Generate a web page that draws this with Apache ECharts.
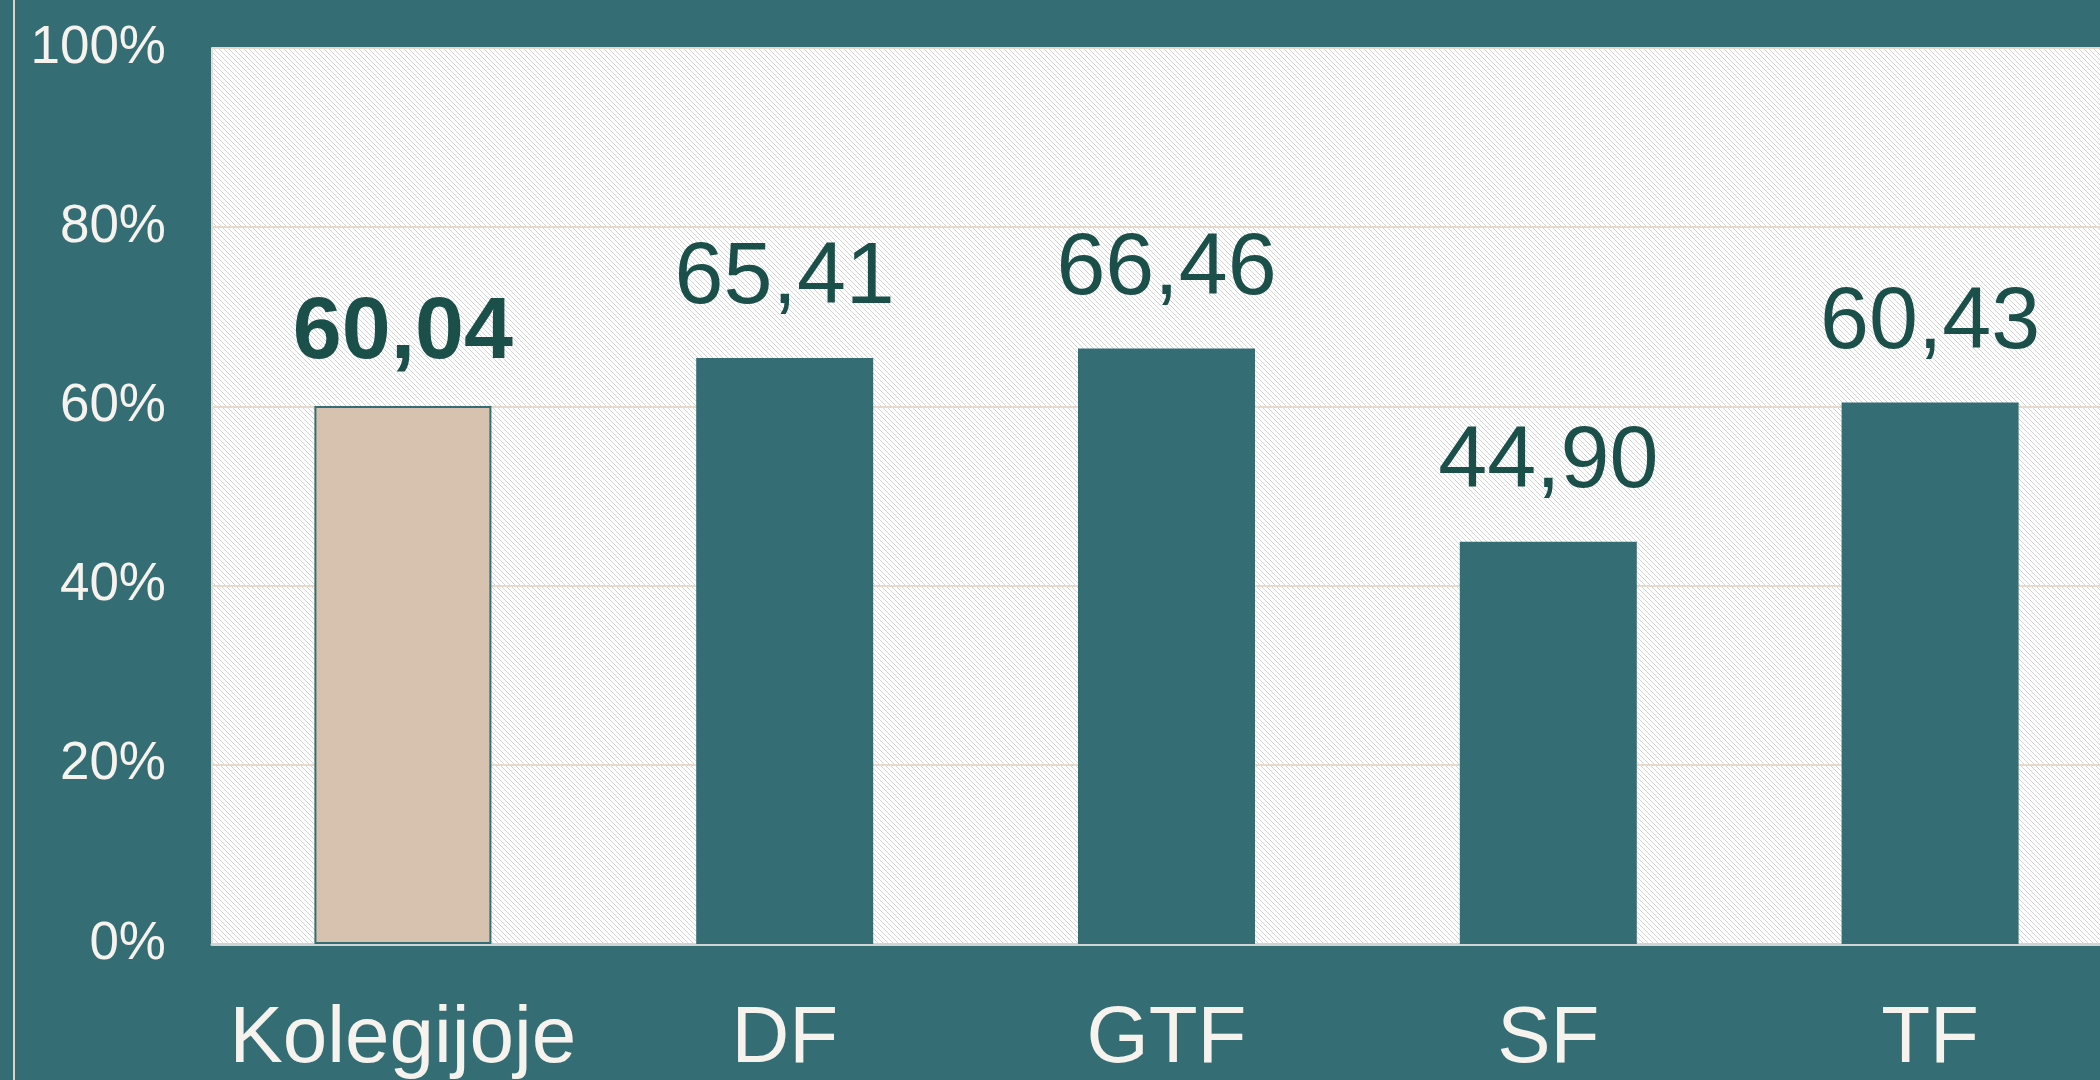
<!DOCTYPE html>
<html lang="lt">
<head>
    <meta charset="UTF-8">
    <script src="https://cdn.jsdelivr.net/npm/echarts@6/dist/echarts.min.js"></script>
    <title>Kolegija</title>
</head>
<body>
<style>
    html, body, #main {
        width: 100%;
        height: 100%;
        margin: 0;
        background: #356d75;
    }
</style>
<div id='main'></div>
<script>
    // duomenys
    var categories = ['Kolegijoje', 'DF', 'GTF', 'SF', 'TF'];
    var values = [60.04, 65.41, 66.46, 44.90, 60.43];
    var yTicks = [0, 20, 40, 60, 80, 100];

    var teal = '#356d75';
    var beige = '#d6c2ae';
    var labelColor = '#1b4f4a';

    // dryzuotas fonas grafiko plotui
    var tile = document.createElement('canvas');
    tile.width = 5;
    tile.height = 5;
    var ctx = tile.getContext('2d');
    ctx.fillStyle = '#ffffff';
    ctx.fillRect(0, 0, 5, 5);
    ctx.strokeStyle = '#d4d4d4';
    ctx.lineWidth = 1;
    ctx.beginPath();
    ctx.moveTo(-1, -1);
    ctx.lineTo(6, 6);
    ctx.moveTo(-1, 4);
    ctx.lineTo(1, 6);
    ctx.moveTo(4, -1);
    ctx.lineTo(6, 1);
    ctx.stroke();

    var barData = [];
    for (var i = 0; i < values.length; i++) {
        var item = {value: values[i]};
        if (i === 0) {
            item.itemStyle = {color: beige, borderColor: teal, borderWidth: 2};
            item.label = {fontWeight: 'bold', distance: 28};
        }
        barData.push(item);
    }

    var myChart = echarts.init(document.getElementById('main'));

    var option = {
        backgroundColor: teal,
        animation: false,
        grid: {
            show: true,
            left: 212,
            top: 48,
            width: 1909,
            height: 896,
            outerBoundsMode: 'none',
            borderWidth: 0,
            backgroundColor: {image: tile, repeat: 'repeat'}
        },
        graphic: [
            {
                type: 'line',
                shape: {x1: 14, y1: 0, x2: 14, y2: 1080},
                style: {stroke: '#ddd3c9', lineWidth: 2}
            }
        ],
        xAxis: {
            type: 'category',
            data: categories,
            axisTick: {show: false},
            axisLine: {
                lineStyle: {color: '#cfd4d4', width: 3}
            },
            axisLabel: {
                interval: 0,
                color: '#f6f2ed',
                fontSize: 80,
                fontFamily: 'Liberation Sans',
                margin: 56
            }
        },
        yAxis: {
            type: 'value',
            min: yTicks[0],
            max: yTicks[yTicks.length - 1],
            interval: 20,
            axisLine: {
                show: true,
                lineStyle: {color: '#e9ddd3', width: 2}
            },
            axisTick: {show: false},
            splitLine: {
                lineStyle: {color: '#e8d9cd', width: 2}
            },
            axisLabel: {
                color: '#f6f2ed',
                fontSize: 53,
                fontFamily: 'Liberation Sans',
                margin: 46,
                formatter: '{value}%'
            }
        },
        series: [
            {
                type: 'bar',
                data: barData,
                barWidth: 177,
                itemStyle: {color: teal},
                label: {
                    show: true,
                    position: 'top',
                    distance: 35,
                    color: labelColor,
                    fontSize: 88,
                    lineHeight: 88,
                    fontWeight: 500,
                    fontFamily: 'Liberation Sans Narrow, Liberation Sans',
                    formatter: function (p) {
                        return p.value.toFixed(2).replace('.', ',');
                    }
                }
            }
        ]
    };

    myChart.setOption(option);
    window.onresize = myChart.resize;
</script>
</body>
</html>
